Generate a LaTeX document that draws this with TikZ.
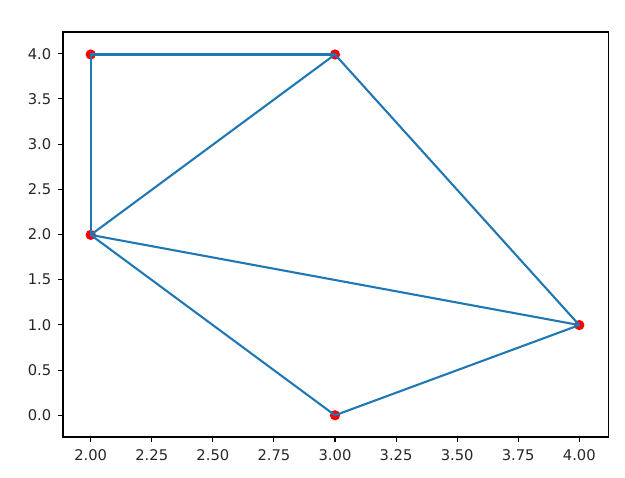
\documentclass[tikz,border=0pt]{standalone}
\usepackage{fontspec}
\setmainfont{DejaVu Sans}
\definecolor{tabblue}{HTML}{1F77B4}
\definecolor{ptred}{HTML}{FF0000}
\definecolor{ticktext}{HTML}{262626}
\begin{document}
\begin{tikzpicture}[x=0.72pt,y=-0.72pt,
  frame/.style={draw=black,line width=0.75pt},
  tick/.style={draw=black,line width=0.75pt},
  ticklab/.style={font=\fontsize{10.6}{12}\selectfont,text=ticktext,inner sep=0pt},
  pt/.style={circle,fill=ptred,draw=none,minimum size=7.4pt,inner sep=0pt},
  edge/.style={draw=tabblue,line width=1.5pt,line cap=round,line join=round}]
\useasboundingbox (0,0) rectangle (625,478);
% axes frame
\coordinate (fa) at (63,32);
\coordinate (fb) at (608.7,437);
\draw[frame] (fa) rectangle (fb);
% x ticks
\foreach \v/\l in {0/2.00,1/2.25,2/2.50,3/2.75,4/3.00,5/3.25,6/3.50,7/3.75,8/4.00}{
  \coordinate (xt\v) at ({90.7+61.075*\v},437);
  \draw[tick] (xt\v) -- ++(0,5.2);
  \node[ticklab,anchor=north] (xl\v) at ({90.7+61.075*\v},449) {\l};
}
% y ticks
\foreach \v/\l in {0/0.0,1/0.5,2/1.0,3/1.5,4/2.0,5/2.5,6/3.0,7/3.5,8/4.0}{
  \coordinate (yt\v) at (63,{415.3-45.2*\v});
  \draw[tick] (yt\v) -- ++(-5.2,0);
  \node[ticklab,anchor=east] (yl\v) at (51.5,{415.3-45.2*\v}) {\l};
}
% points
\node[pt] (a) at (90.7,54.5) {};
\node[pt] (b) at (335,54.5) {};
\node[pt] (c) at (90.7,234.9) {};
\node[pt] (d) at (579.3,325.1) {};
\node[pt] (e) at (335,415.3) {};
% edges
\draw[edge] (a.center) -- (b.center);
\draw[edge] (a.center) -- (c.center);
\draw[edge] (b.center) -- (c.center);
\draw[edge] (b.center) -- (d.center);
\draw[edge] (c.center) -- (d.center);
\draw[edge] (c.center) -- (e.center);
\draw[edge] (e.center) -- (d.center);
\end{tikzpicture}
\end{document}
